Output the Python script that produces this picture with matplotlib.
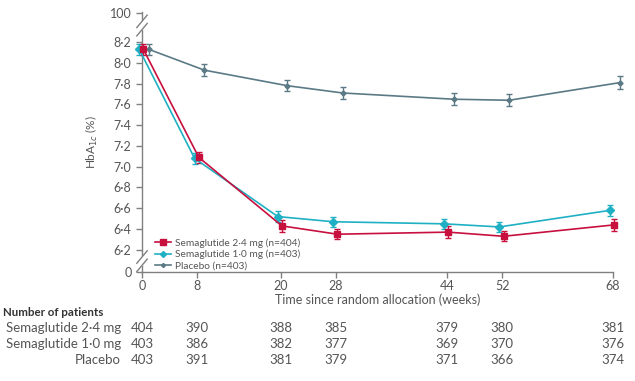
import matplotlib
matplotlib.use("Agg")
import matplotlib.pyplot as plt
from matplotlib.lines import Line2D
import numpy as np

plt.rcParams['font.family'] = ['Lato', 'DejaVu Sans']

weeks = [0, 8, 20, 28, 44, 52, 68]

sema24 = [8.13, 7.09, 6.43, 6.35, 6.37, 6.33, 6.44]
sema24_err = [0.05, 0.05, 0.055, 0.05, 0.055, 0.05, 0.06]
sema10 = [8.13, 7.08, 6.52, 6.47, 6.45, 6.42, 6.58]
sema10_err = [0.05, 0.05, 0.05, 0.05, 0.05, 0.05, 0.055]
placebo = [8.13, 7.93, 7.78, 7.71, 7.65, 7.64, 7.81]
placebo_err = [0.05, 0.06, 0.055, 0.055, 0.06, 0.06, 0.065]

labels = ['Semaglutide 2\u00b74 mg (n=404)', 'Semaglutide 1\u00b70 mg (n=403)', 'Placebo (n=403)']
row_names = ['Semaglutide 2\u00b74 mg', 'Semaglutide 1\u00b70 mg', 'Placebo']
n_sema24 = [404, 390, 388, 385, 379, 380, 381]
n_sema10 = [403, 386, 382, 377, 369, 370, 376]
n_placebo = [403, 391, 381, 379, 371, 366, 374]

ytick_vals = [6.2, 6.4, 6.6, 6.8, 7.0, 7.2, 7.4, 7.6, 7.8, 8.0, 8.2]

red = '#c8103e'
teal = '#1fb0c4'
grey = '#5b7a86'
txt = '#555555'
axc = '#808080'

# y positions used for the broken-axis "0" and "100" labels
y_zero = 5.986
y_hundred = 8.48

fig = plt.figure(figsize=(6.35, 3.81), dpi=100)
ax = fig.add_axes([142 / 635, 109 / 381, (613 - 142) / 635, (272 - 12) / 381])

x = np.array(weeks, dtype=float)
series = [
    (sema10, sema10_err, teal, 'D', 3.8, -0.4, labels[1]),
    (placebo, placebo_err, grey, 'D', 2.6, 1.0, labels[2]),
    (sema24, sema24_err, red, 's', 4.6, 0.2, labels[0]),
]
handles = {}
for vals, err, col, mk, ms, dx, lab in series:
    ax.errorbar(x + dx, vals, yerr=err, color=col, marker=mk, ms=ms,
                lw=1.2, elinewidth=1.0, capsize=2.5, capthick=1.0,
                clip_on=False, zorder=3)
    handles[lab] = Line2D([], [], color=col, marker=mk, ms=ms * 0.8, lw=1.2)

ax.set_xlim(0, 68)
ax.set_ylim(y_zero, 8.49)
ax.set_xticks(weeks)
ax.set_xticklabels([str(w) for w in weeks])
ax.set_yticks([y_zero] + ytick_vals + [y_hundred])
ax.set_yticklabels(['0'] + [f'{v:.1f}'.replace('.', '\u00b7') for v in ytick_vals] + ['100'])

for s in ['top', 'right']:
    ax.spines[s].set_visible(False)
for s in ['left', 'bottom']:
    ax.spines[s].set_color(axc)
    ax.spines[s].set_linewidth(1.0)
ax.tick_params(colors=axc, labelcolor=txt, labelsize=9, length=4, width=1.0)
ax.tick_params(axis='x', pad=2)

ax.set_xlabel('Time since random allocation (weeks)', fontsize=9, color=txt, labelpad=1)
ax.set_ylabel('HbA$_{1c}$ (%)', fontsize=8.5, color=txt, labelpad=7)

# axis break marks
y0, y1 = ax.get_ylim()
for yb in [8.36, 6.09]:
    yf = (yb - y0) / (y1 - y0)
    ax.fill([-0.02, 0.02, 0.02, -0.02], [yf - 0.032, yf + 0.0, yf + 0.032, yf], transform=ax.transAxes,
            color='white', clip_on=False, zorder=4)
    for off in [-0.016, 0.016]:
        ax.plot([-0.011, 0.011], [yf + off - 0.024, yf + off + 0.024], transform=ax.transAxes,
                color=axc, lw=1.0, clip_on=False, zorder=5)

leg = ax.legend([handles[l] for l in labels], labels, loc='lower left',
                bbox_to_anchor=(0.012, -0.022), frameon=False, fontsize=7.3,
                handlelength=1.6, handletextpad=0.4, labelspacing=0.2,
                borderaxespad=0.3)
for t in leg.get_texts():
    t.set_color(txt)

# number at risk table
fig.text(3 / 635, 1 - 312 / 381, 'Number of patients', fontsize=8.3, fontweight='bold',
         color='#333333', va='center', ha='left')
rows = [n_sema24, n_sema10, n_placebo]
row_y = [328, 344, 360]
for name, vals, yp in zip(row_names, rows, row_y):
    fig.text(121 / 635, 1 - yp / 381, name, fontsize=9.5, color=txt, ha='right', va='center')
    for w, v in zip(weeks, vals):
        xd = ax.transData.transform((w, 0))[0]
        fig.text(xd / fig.bbox.width, 1 - yp / 381, str(v), fontsize=9.5, color=txt,
                 ha='center', va='center')

fig.savefig('out.png', dpi=100)
